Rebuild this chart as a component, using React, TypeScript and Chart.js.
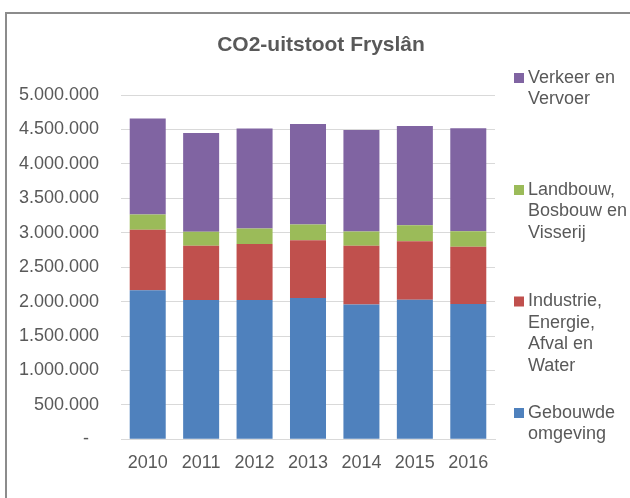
import React, { useEffect, useRef } from "react";
import { Chart, registerables } from "chart.js";

Chart.register(...registerables);

const years = ["2010", "2011", "2012", "2013", "2014", "2015", "2016"];
const gebouwde = [2163000, 2023000, 2023000, 2052000, 1959000, 2028000, 1965000];
const industrie = [879000, 786000, 815000, 839000, 850000, 848000, 830000];
const landbouw = [223000, 204000, 223000, 228000, 208000, 233000, 227000];
const verkeer = [1393000, 1435000, 1451000, 1460000, 1475000, 1441000, 1495000];

const seriesNames = [
  "Gebouwde omgeving",
  "Industrie, Energie, Afval en Water",
  "Landbouw, Bosbouw en Visserij",
  "Verkeer en Vervoer",
];
const legendLines = [
  ["Verkeer en", "Vervoer"],
  ["Landbouw,", "Bosbouw en", "Visserij"],
  ["Industrie,", "Energie,", "Afval en", "Water"],
  ["Gebouwde", "omgeving"],
];
const legendColors = ["#8064A2", "#9BBB59", "#C0504D", "#4F81BD"];
const legendFirstLineY = [78, 190, 301.5, 413];
const title = "CO2-uitstoot Fryslân";

const fmt = (v: number) =>
  v === 0 ? "-  " : String(Math.round(v)).replace(/\B(?=(\d{3})+(?!\d))/g, ".");

const FONT = "'Liberation Sans', Arial, sans-serif";
const GREY = "#595959";

const decor = {
  id: "decor",
  beforeDraw(chart: any) {
    const ctx = chart.ctx;
    ctx.save();
    ctx.fillStyle = "#ffffff";
    ctx.fillRect(0, 0, chart.width, chart.height);
    ctx.strokeStyle = "#8c8c8c";
    ctx.lineWidth = 2;
    ctx.strokeRect(6, 13, 1000, 1000);
    ctx.restore();
  },
  afterDraw(chart: any) {
    const ctx = chart.ctx;
    ctx.save();
    ctx.fillStyle = GREY;
    ctx.textAlign = "center";
    ctx.textBaseline = "middle";
    ctx.font = `bold 21px ${FONT}`;
    ctx.fillText(title, 321, 45);
    ctx.font = `18px ${FONT}`;
    ctx.textAlign = "left";
    legendLines.forEach((lines, i) => {
      const y0 = legendFirstLineY[i];
      ctx.fillStyle = legendColors[i];
      ctx.fillRect(514, y0 - 5, 10, 10);
      ctx.fillStyle = GREY;
      lines.forEach((l, j) => ctx.fillText(l, 528, y0 + j * 21.4));
    });
    ctx.restore();
  },
};

export default function App() {
  const ref = useRef<HTMLCanvasElement>(null);
  useEffect(() => {
    const chart = new Chart(ref.current!, {
      type: "bar",
      data: {
        labels: years,
        datasets: [
          { label: seriesNames[0], data: gebouwde, backgroundColor: "#4F81BD" },
          { label: seriesNames[1], data: industrie, backgroundColor: "#C0504D" },
          { label: seriesNames[2], data: landbouw, backgroundColor: "#9BBB59" },
          { label: seriesNames[3], data: verkeer, backgroundColor: "#8064A2" },
        ],
      },
      options: {
        animation: false,
        responsive: false,
        maintainAspectRatio: false,
        layout: { padding: { left: 0, top: 95, right: 135, bottom: 0 } },
        datasets: { bar: { categoryPercentage: 1, barPercentage: 0.674, borderWidth: 0 } },
        plugins: { legend: { display: false }, title: { display: false }, tooltip: { enabled: false } },
        scales: {
          x: {
            stacked: true,
            grid: { display: false, drawTicks: false },
            border: { display: true, color: "#d9d9d9", width: 1 },
            ticks: { color: GREY, font: { family: FONT, size: 18 }, padding: 13, maxRotation: 0 },
            afterFit: (s: any) => { s.height = 58.7; },
          },
          y: {
            stacked: true,
            min: 0,
            max: 5000000,
            grid: { color: "#d9d9d9", lineWidth: 1, drawTicks: false },
            border: { display: false },
            ticks: {
              stepSize: 500000,
              color: GREY,
              font: { family: FONT, size: 18 },
              padding: 22,
              callback: (v: any) => fmt(Number(v)),
            },
            afterFit: (s: any) => { s.width = 121; },
          },
        },
      },
      plugins: [decor],
    });
    return () => chart.destroy();
  }, []);
  return (
    <div style={{ position: "fixed", left: 0, top: 0, width: 630, height: 498 }}>
      <canvas ref={ref} width={630} height={498} style={{ width: 630, height: 498, display: "block" }} />
    </div>
  );
}
